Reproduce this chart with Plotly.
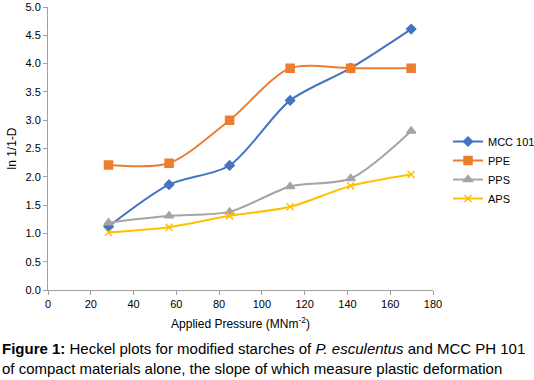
import plotly.graph_objects as go

pressure = [28.3, 56.6, 84.9, 113.2, 141.5, 169.8]
mcc101 = [1.12, 1.86, 2.20, 3.35, 3.92, 4.61]
ppe = [2.21, 2.24, 3.00, 3.92, 3.92, 3.92]
pps = [1.19, 1.31, 1.38, 1.83, 1.97, 2.81]
aps = [1.02, 1.11, 1.31, 1.47, 1.84, 2.04]

series = [
    ("MCC 101", mcc101, "#4472C4", "diamond", 7),
    ("PPE", ppe, "#ED7D31", "square", 8),
    ("PPS", pps, "#A5A5A5", "triangle-up", 8),
    ("APS", aps, "#FFC000", "x-thin-open", 7),
]

fig = go.Figure()
for name, vals, color, sym, size in series:
    fig.add_trace(go.Scatter(
        x=pressure, y=vals, name=name, mode="lines+markers",
        line=dict(color=color, width=2, shape="spline", smoothing=0.8),
        marker=dict(symbol=sym, size=size, color=color,
                    line=dict(color=color, width=1.5)),
    ))

font = "Liberation Sans, Arial, sans-serif"
fig.update_layout(
    width=534, height=380,
    margin=dict(l=48, r=101, t=7, b=90, autoexpand=False),
    paper_bgcolor="white", plot_bgcolor="white",
    font=dict(family=font, size=11, color="black"),
    showlegend=True,
    legend=dict(x=1.039, y=0.424, xanchor="left", yanchor="middle",
                font=dict(size=11), tracegroupgap=0, itemwidth=30,
                bgcolor="rgba(0,0,0,0)"),
    xaxis=dict(range=[0, 180], dtick=20, showgrid=False, zeroline=False,
               showline=True, linecolor="#A0A0A0", linewidth=1,
               ticks="outside", ticklen=4, tickcolor="#A0A0A0", automargin=False,
               title=dict(text="Applied Pressure (MNm<sup>-2</sup>)",
                          font=dict(size=12), standoff=10)),
    yaxis=dict(range=[0, 5], dtick=0.5, tickformat=".1f", showgrid=False,
               zeroline=False, showline=True, linecolor="#A0A0A0", linewidth=1,
               ticks="outside", ticklen=4, tickcolor="#A0A0A0", automargin=False,
               title=dict(text="ln 1/1-D", font=dict(size=12), standoff=6)),
)

fig.add_annotation(
    xref="paper", yref="paper", x=-48/385, y=-48/283, xanchor="left", yanchor="top",
    align="left", showarrow=False,
    font=dict(family=font, size=15, color="black"),
    text="<b>Figure 1:</b> Heckel plots for modified starches of <i>P. esculentus</i> and MCC PH 101<br>of compact materials alone, the slope of which measure plastic deformation",
)

fig.write_html("out.html", config={"displayModeBar": False},
               post_script="document.body.style.margin='0';document.body.style.overflow='hidden';")
